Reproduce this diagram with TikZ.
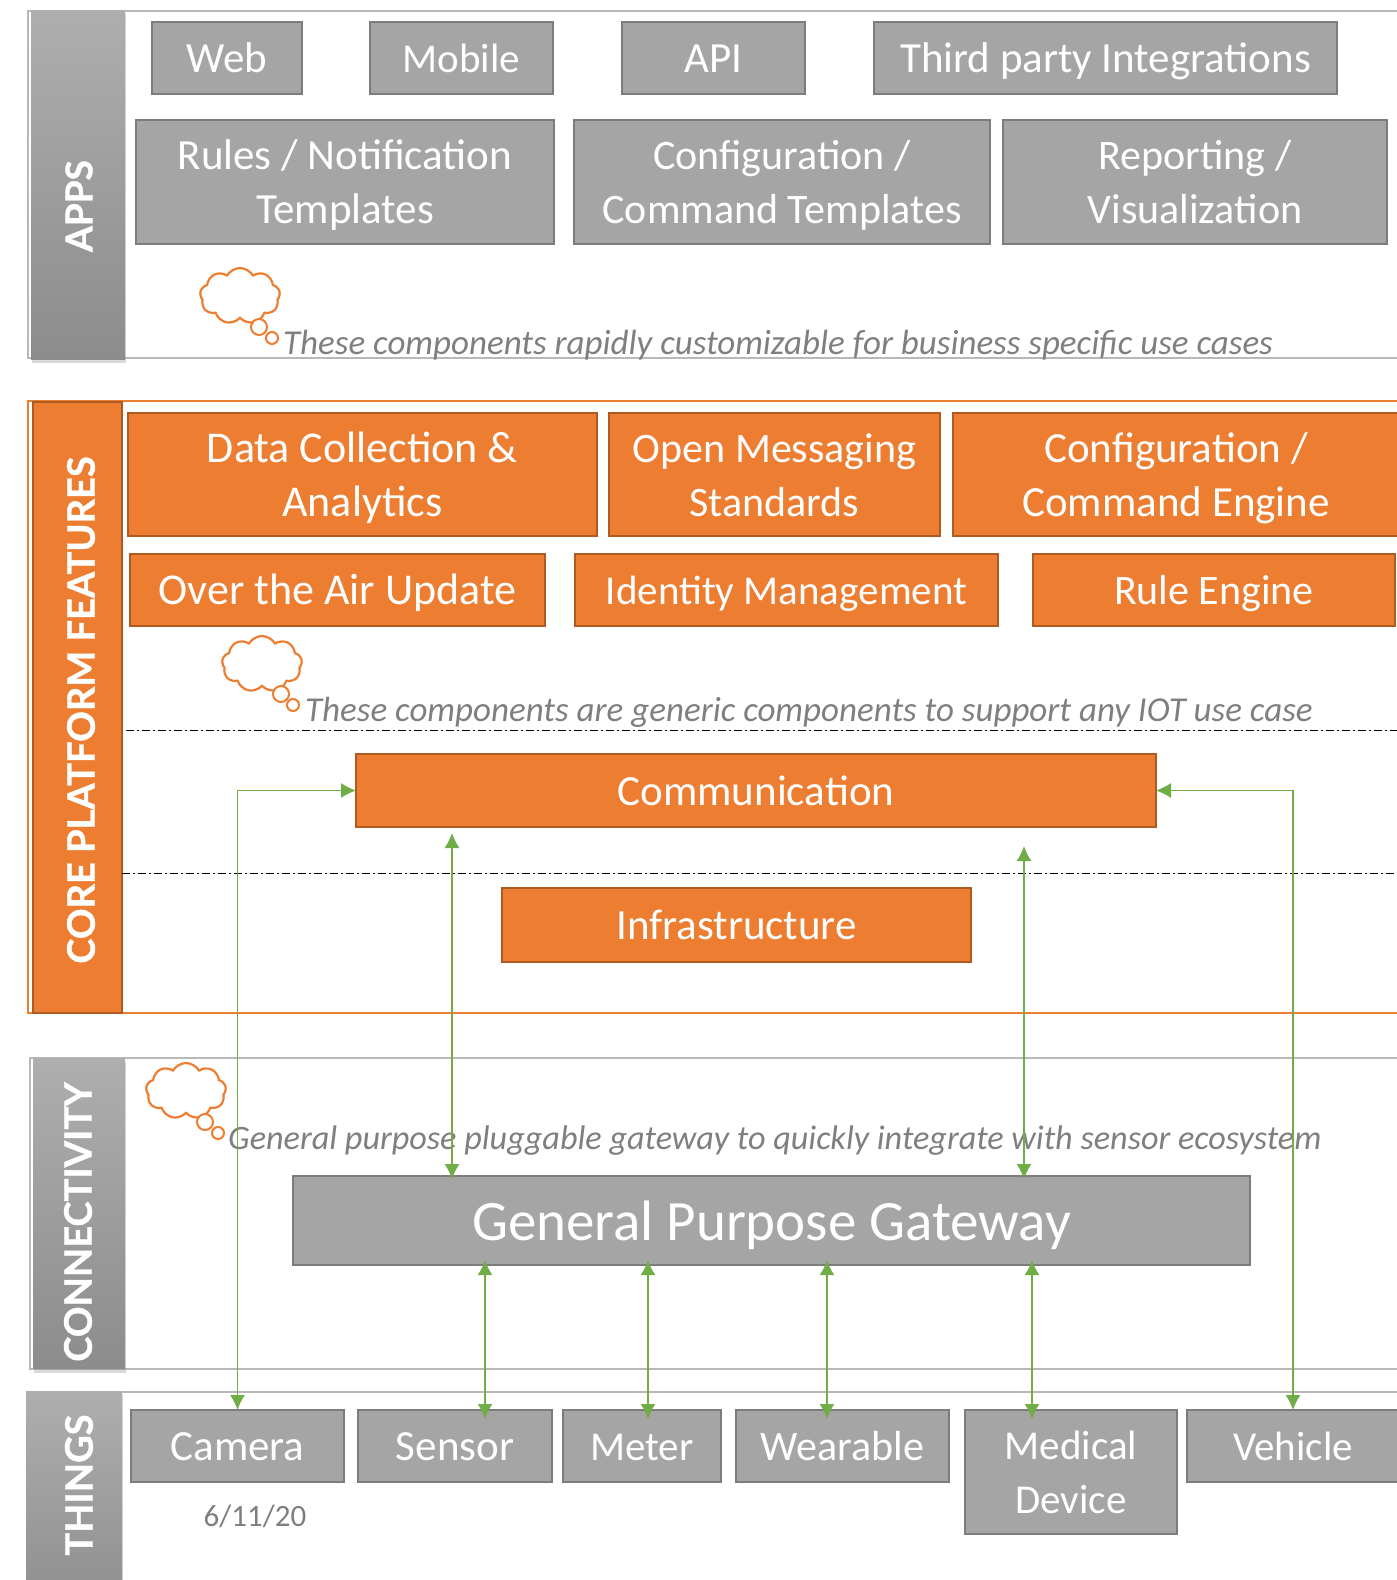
\documentclass[tikz,border=0pt]{standalone}
\usepackage{fontspec}
\setmainfont{Carlito}
\newfontfamily\barfont[BoldFeatures={FakeBold=1}]{Lato}
\usetikzlibrary{arrows.meta,shadows,shapes.symbols}
\definecolor{boxgrey}{HTML}{A5A5A5}
\definecolor{boxline}{HTML}{7C7C7C}
\definecolor{boxorange}{HTML}{ED7D31}
\definecolor{orangeline}{HTML}{AE5A21}
\definecolor{linkgreen}{HTML}{70AD47}
\definecolor{notegrey}{HTML}{7F7F7F}
\begin{document}
\begin{tikzpicture}[x=1pt,y=-1pt,>={Latex[length=15pt,width=15pt]},
  plainbox/.style={draw=boxline,line width=2.5pt,fill=boxgrey,text=white,inner sep=0pt,outer sep=0pt,align=center,font=\fontsize{43}{54}\selectfont},
  greybox/.style={plainbox,text height=47pt,text depth=18pt},
  twolines/.style={text height=101pt},
  orangebox/.style={greybox,draw=orangeline,fill=boxorange},
  fs/.style={font=\fontsize{#1}{54}\selectfont},
  greybar/.style={draw=none,top color=boxgrey!90!white,bottom color=boxgrey!85!black,drop shadow={shadow xshift=1pt,shadow yshift=-4pt,opacity=.3},inner sep=0pt},
  barlabel/.style={rotate=90,text=white,font=\barfont\bfseries\fontsize{38}{38}\selectfont},
  frameline/.style={draw=black!28,line width=2pt},
  note/.style={anchor=base west,text=notegrey,font=\itshape\fontsize{35}{35}\selectfont,inner sep=0pt},
  thought/.style={cloud,cloud puffs=9,cloud puff arc=120,aspect=1.4,draw=boxorange,line width=2.2pt,fill=white,minimum width=80pt,minimum height=56pt,inner sep=0pt},
  bubble/.style={circle,draw=boxorange,line width=2pt,fill=white,inner sep=0pt},
  link/.style={<->,draw=linkgreen,line width=1.3pt},
  dashline/.style={line width=1pt,dash pattern=on 8pt off 3pt on 2pt off 3pt}]
\path[use as bounding box,clip] (0,0) rectangle (1397,1580);

\draw[frameline] (28,11) rectangle (1430,358);
\draw[frameline,draw=boxorange] (28,401) rectangle (1430,1013);
\draw[frameline] (30,1058) rectangle (1430,1369);
\draw[frameline] (27,1392) rectangle (1430,1640);

\node[greybar,minimum width=94pt,minimum height=349pt] (appsbar) at (78,184.5) {};
\node[plainbox,draw=orangeline,fill=boxorange,minimum width=89pt,minimum height=611pt,line width=2pt] (corebar) at (77,707) {};
\node[greybar,minimum width=92pt,minimum height=310pt] (connbar) at (79,1213.5) {};
\node[greybar,minimum width=96pt,minimum height=230pt] (thingsbar) at (74,1506) {};
\node[barlabel,font=\barfont\bfseries\fontsize{37}{37}\selectfont] (appslabel) at (79,206) {APPS};
\node[barlabel] (corelabel) at (81,710) {CORE PLATFORM FEATURES};
\node[barlabel] (connlabel) at (78,1222) {CONNECTIVITY};
\node[barlabel] (thingslabel) at (79,1485) {THINGS};

\node[greybox,minimum width=150pt,minimum height=72pt] (web) at (227,58) {Web};
\node[greybox,fs=41,minimum width=183pt,minimum height=72pt] (mobile) at (461.5,58) {Mobile};
\node[greybox,minimum width=183pt,minimum height=72pt] (api) at (713.5,58) {API};
\node[greybox,minimum width=463pt,minimum height=72pt] (third) at (1105.5,58) {Third party Integrations};
\node[greybox,twolines,minimum width=418pt,minimum height=124pt] (rules) at (345,182) {Rules / Notification\\Templates};
\node[greybox,twolines,fs=42,minimum width=416pt,minimum height=124pt] (cmdtmpl) at (782,182) {Configuration /\\Command Templates};
\node[greybox,twolines,fs=42,minimum width=384pt,minimum height=124pt] (report) at (1195,182) {Reporting /\\Visualization};

\node[thought] (cloudapps) at (240,296) {};
\node[bubble,minimum size=16pt] (bubapps) at (259,327) {};
\node[bubble,minimum size=12pt] (dotapps) at (272,338) {};
\node[note] (noteapps) at (283,354) {These components rapidly customizable for business specific use cases};

\node[orangebox,twolines,fs=44,minimum width=469pt,minimum height=123pt] (data) at (362.5,474.5) {Data Collection \&\\Analytics};
\node[orangebox,twolines,fs=42,minimum width=331pt,minimum height=123pt] (open) at (774.5,474.5) {Open Messaging\\Standards};
\node[orangebox,twolines,minimum width=446pt,minimum height=123pt] (cmdengine) at (1176,474.5) {Configuration /\\Command Engine};
\node[orangebox,fs=44,minimum width=415pt,minimum height=72pt] (ota) at (337.5,590) {Over the Air Update};
\node[orangebox,fs=41,minimum width=423pt,minimum height=72pt] (identity) at (786.5,590) {Identity Management};
\node[orangebox,fs=42,minimum width=362pt,minimum height=72pt] (rule) at (1214,590) {Rule Engine};

\node[thought] (cloudcore) at (262,664) {};
\node[bubble,minimum size=16pt] (bubcore) at (281,694) {};
\node[bubble,minimum size=12pt] (dotcore) at (293,705) {};
\node[note] (notecore) at (305,721) {These components are generic components to support any IOT use case};
\draw[dashline] (126,730)--(1397,730);

\node[orangebox,minimum width=800pt,minimum height=73pt] (comm) at (756,790.5) {Communication};
\draw[dashline] (122,873)--(1397,873);
\node[orangebox,minimum width=469pt,minimum height=74pt] (infra) at (736.5,925) {Infrastructure};

\node[thought] (cloudconn) at (186,1091) {};
\node[bubble,minimum size=16pt] (bubconn) at (205,1122) {};
\node[bubble,minimum size=12pt] (dotconn) at (218,1133) {};
\node[note,font=\itshape\fontsize{34.2}{35}\selectfont] (noteconn) at (228,1149) {General purpose pluggable gateway to quickly integrate with sensor ecosystem};

\node[plainbox,minimum width=957pt,minimum height=89pt,font=\fontsize{57}{57}\selectfont,text height=50pt,text depth=10pt] (gateway) at (771.5,1220.5) {General Purpose Gateway};

\node[greybox,minimum width=213pt,minimum height=72pt] (camera) at (237.5,1446) {Camera};
\node[greybox,minimum width=194pt,minimum height=72pt] (sensor) at (455,1446) {Sensor};
\node[greybox,fs=41,minimum width=158pt,minimum height=72pt] (meter) at (642,1446) {Meter};
\node[greybox,fs=42,minimum width=213pt,minimum height=72pt] (wearable) at (842.5,1446) {Wearable};
\node[greybox,twolines,fs=41,minimum width=212pt,minimum height=124pt] (medical) at (1071,1472) {Medical\\Device};
\node[greybox,fs=41,minimum width=212pt,minimum height=72pt] (vehicle) at (1293,1446) {Vehicle};
\node[text=notegrey,font=\fontsize{31}{31}\selectfont] (date) at (255,1516) {6/11/20};

\coordinate (commleft) at (452,833);
\coordinate (commright) at (1024,846);
\coordinate (gwa) at (485,1260);
\coordinate (gwb) at (648,1260);
\coordinate (gwc) at (827,1260);
\coordinate (gwd) at (1032,1260);
\draw[link] (comm.west) -| (camera.north);
\draw[link] (comm.east) -| (vehicle.north);
\draw[link] (commleft) -- ([yshift=-3pt]commleft |- gateway.north);
\draw[link] (commright) -- ([yshift=-3pt]commright |- gateway.north);
\draw[link,line width=1.6pt] (gwa) -- ([yshift=-9pt]gwa |- sensor.north);
\draw[link,line width=1.6pt] (gwb) -- ([yshift=-9pt]gwb |- meter.north);
\draw[link,line width=1.6pt] (gwc) -- ([yshift=-9pt]gwc |- wearable.north);
\draw[link,line width=1.6pt] (gwd) -- ([yshift=-9pt]gwd |- medical.north);

\end{tikzpicture}
\end{document}
